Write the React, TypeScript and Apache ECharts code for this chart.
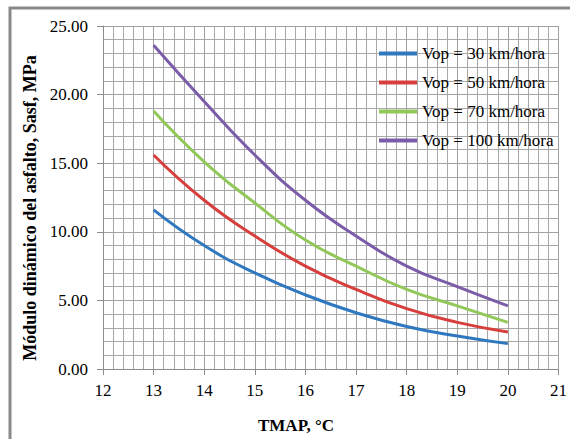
import React, { useEffect, useRef } from "react";
import * as echarts from "echarts";

const temps = [13, 14, 15, 16, 17, 18, 19, 20];
const seriesNames = ["Vop = 30 km/hora", "Vop = 50 km/hora", "Vop = 70 km/hora", "Vop = 100 km/hora"];
const v30 = [11.6, 9.0, 7.0, 5.4, 4.1, 3.1, 2.4, 1.85];
const v50 = [15.6, 12.3, 9.7, 7.5, 5.8, 4.4, 3.4, 2.7];
const v70 = [18.8, 15.1, 12.1, 9.4, 7.5, 5.8, 4.6, 3.4];
const v100 = [23.6, 19.5, 15.6, 12.3, 9.7, 7.5, 6.0, 4.6];
const xTitle = "TMAP, °C";
const yTitle = "Módulo dinámico del asfalto, Sasf, MPa";
const colors = ["#2f78c0", "#d63f3c", "#92c85a", "#7b5ca8"];

const FONT = "Liberation Serif";

export default function App() {
  const ref = useRef<HTMLDivElement>(null);
  useEffect(() => {
    if (!ref.current) return;
    const chart = echarts.init(ref.current, undefined, { renderer: "svg" });
    const all = [v30, v50, v70, v100];
    chart.setOption({
      animation: false,
      backgroundColor: "#ffffff",
      grid: { left: 103, right: 3, top: 26, bottom: 70, containLabel: false },
      graphic: [
        {
          type: "polyline",
          shape: { points: [[10, 439], [10, 8], [570, 8]] },
          style: { fill: "none", stroke: "#8a8a8a", lineWidth: 3 },
          z: 0,
        },
        {
          type: "text",
          x: 296,
          y: 425,
          style: {
            text: xTitle,
            fontFamily: FONT,
            fontSize: 17,
            fontWeight: "bold",
            fill: "#000",
            align: "center",
            verticalAlign: "middle",
          },
        },
        {
          type: "text",
          x: 30,
          y: 208,
          rotation: Math.PI / 2,
          style: {
            text: yTitle,
            fontFamily: FONT,
            fontSize: 18,
            fontWeight: "bold",
            fill: "#000",
            align: "center",
            verticalAlign: "middle",
          },
        },
      ],
      legend: {
        orient: "vertical",
        left: 374,
        top: 40,
        itemGap: 12,
        itemWidth: 38,
        itemHeight: 4,
        icon: "rect",
        textStyle: { fontFamily: FONT, fontSize: 17, color: "#000" },
        data: seriesNames,
      },
      xAxis: {
        type: "value",
        min: 12,
        max: 21,
        interval: 1,
        axisLine: { show: true, lineStyle: { color: "#8c8c8c", width: 1 } },
        axisTick: { show: true, length: 6, lineStyle: { color: "#8c8c8c" } },
        axisLabel: {
          fontFamily: FONT,
          fontSize: 17,
          color: "#000",
          margin: 13,
          alignMinLabel: "center",
          alignMaxLabel: "center",
        },
        splitLine: { show: true, lineStyle: { color: "#a0a0a0", width: 1 } },
        minorTick: { show: false, splitNumber: 5 },
        minorSplitLine: { show: true, lineStyle: { color: "#a8a8a8", width: 1 } },
      },
      yAxis: {
        type: "value",
        min: 0,
        max: 25,
        interval: 5,
        axisLine: { show: true, lineStyle: { color: "#8c8c8c", width: 1 } },
        axisTick: { show: true, length: 6, lineStyle: { color: "#8c8c8c" } },
        axisLabel: {
          fontFamily: FONT,
          fontSize: 17,
          color: "#000",
          margin: 15,
          formatter: (v: number) => v.toFixed(2),
        },
        splitLine: { show: true, lineStyle: { color: "#a0a0a0", width: 1 } },
        minorTick: { show: false, splitNumber: 5 },
        minorSplitLine: { show: true, lineStyle: { color: "#a8a8a8", width: 1 } },
      },
      series: all.map((vals, i) => ({
        name: seriesNames[i],
        type: "line",
        smooth: true,
        showSymbol: false,
        symbol: "none",
        color: colors[i],
        lineStyle: { width: 3, color: colors[i] },
        data: temps.map((t, j) => [t, vals[j]]),
      })),
    });
    return () => chart.dispose();
  }, []);
  return (
    <div
      ref={ref}
      style={{ position: "absolute", left: 0, top: 0, width: 570, height: 439, overflow: "hidden" }}
    />
  );
}
